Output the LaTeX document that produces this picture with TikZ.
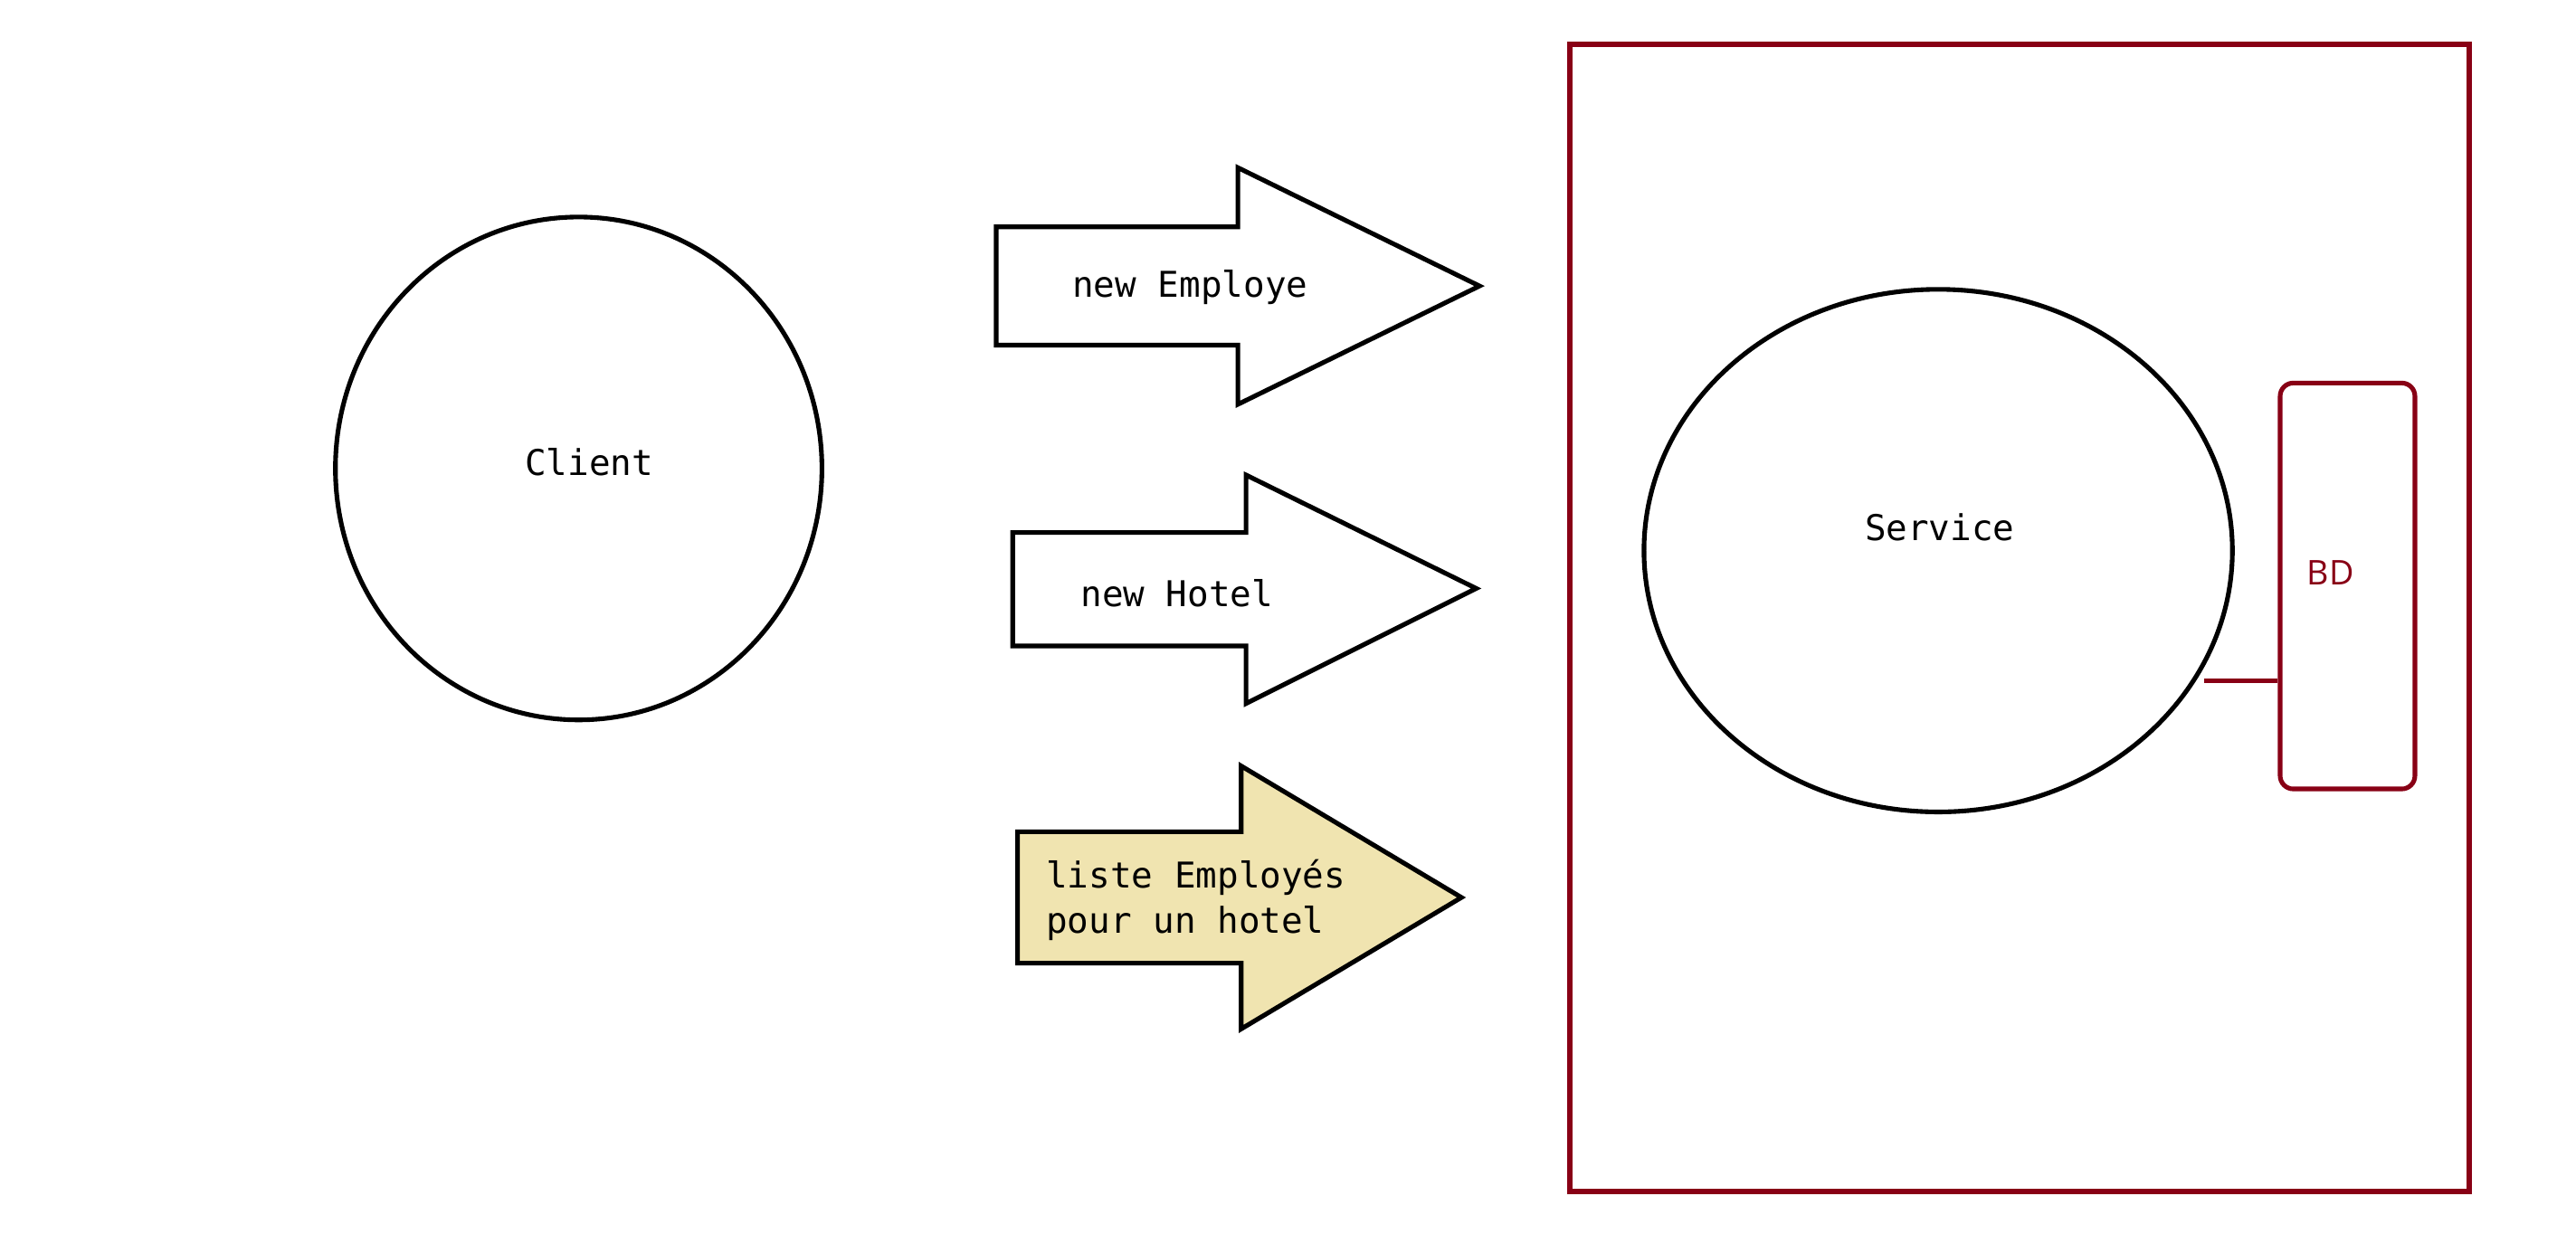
\documentclass[tikz,border=0pt]{standalone}
\usepackage{fontspec}
\usepackage{tikz}
\usetikzlibrary{calc,shapes.geometric}
\newfontfamily\labelmono{DejaVu Sans Mono}
\newfontfamily\labelsans{Open Sans}
\definecolor{bdred}{RGB}{136,0,21}
\definecolor{msgkhaki}{RGB}{240,228,176}
\def\fatarrow[#1](#2,#3,#4)(#5,#6,#7)(#8,#9){\draw[#1] (#2,#3) -- (#5,#3) -- (#5,#6) -- (#8,#9) -- (#5,#7) -- (#5,#4) -- (#2,#4) -- cycle;}

\begin{document}
\begin{tikzpicture}[x=0.02cm, y=-0.02cm, line width=1.6pt,
		msgtext/.style={inner sep=0pt, anchor=base west, font=\labelmono\fontsize{12.3}{15.9}\selectfont}]
		%%%%% START %%%%%
		\useasboundingbox (0, 0) rectangle (1567, 761.8);
		
		\node[ellipse, draw, minimum width=5.92cm, minimum height=6.12cm, inner sep=0pt] (client) at (352, 285) {};
		\node[msgtext] (clientname) at (318, 289) {Client};
		
		\fatarrow[](606,138,210)(753,102,246)(900,174)
		\node[msgtext] (newemploye) at (651, 181) {new Employe};
		
		\fatarrow[](616,324,393)(758,289,428)(898,358)
		\node[msgtext] (newhotel) at (656, 369) {new Hotel};
		
		\fatarrow[fill=msgkhaki](619,506,586)(755,466,626)(889,546)
		\node[msgtext, align=left] (listeemp) at (635, 568) {liste Employés\\pour un hotel};
		
		\draw[bdred, line width=1.8pt] (955, 27) rectangle (1502, 725);
		
		\node[ellipse, draw, minimum width=7.16cm, minimum height=6.36cm, inner sep=0pt] (service) at (1179, 335) {};
		\node[msgtext] (servicename) at (1133, 329) {Service};
		
		\node[draw=bdred, rounded corners=0.16cm, minimum width=1.64cm, minimum height=4.94cm, inner sep=0pt] (bd) at (1428, 356.5) {};
		\node[inner sep=0pt, anchor=base west, text=bdred, font=\labelsans\fontsize{11.8}{14}\selectfont] (bdname) at (1402, 356) {BD};
		
		\coordinate (dblink) at (1341, 414);
		\draw[bdred] (dblink) -- (dblink -| bd.west);
		%%%%% END %%%%%
	\end{tikzpicture}
\end{document}
